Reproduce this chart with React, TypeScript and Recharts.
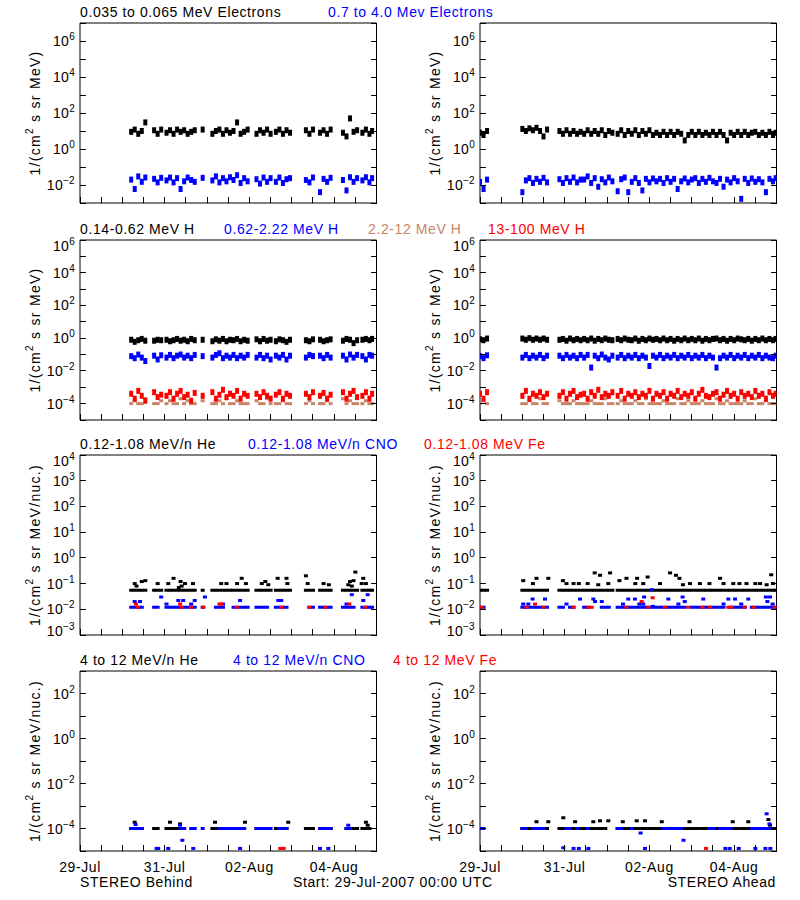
import { ScatterChart, Scatter, XAxis, YAxis } from 'recharts'

// sample times, hours after 29-Jul-2007 00:00 UTC
const HOURS_BEHIND = [
  29, 31, 33, 35, 37,
  42, 44, 46,
  49, 51, 53, 55, 57, 59, 61, 63, 65,
  69.5,
  75, 77, 79, 81, 83, 85,
  87, 89, 91, 93, 95,
  100, 102, 104, 106, 108,
  111, 113, 115, 117, 119,
  128, 130, 132,
  136, 138, 140, 142,
  149, 151, 153, 155, 157,
  160, 162, 164, 165.5,
]

const HOURS_AHEAD = [
  0, 2, 4,
  24, 26, 28, 30, 32, 34, 36, 38,
  45, 47, 49, 51, 53, 55, 57,
  59, 61, 63, 65, 67, 69, 71, 73, 75,
  78, 80, 82, 84, 86, 88, 90, 92, 94, 96, 98,
  100, 102, 104, 106, 108, 110, 112, 114, 116, 118,
  120, 122, 124, 126, 128, 130, 132, 134, 136, 138,
  140, 142, 144, 146, 148, 150, 152, 154, 156, 158,
  160, 162, 164, 166, 167.5,
]

const HOUR_TICKS = [0, 12, 24, 36, 48, 60, 72, 84, 96, 108, 120, 132, 144, 156, 168]
const DATE_TICKS = [0, 48, 96, 144]
const DATE_NAMES = ['29-Jul', '31-Jul', '02-Aug', '04-Aug']

// ---------- STEREO Behind ----------
const B_E_LOW = [
  9, 12, 7, 10, 30,
  11, 7, 12,
  8, 11, 7, 12, 9, 11, 7, 9, 11,
  12,
  7, 10, 12, 7, 11, 8,
  10, 30, 7, 9, 12,
  7, 11, 8, 12, 7,
  9, 12, 7, 11, 8,
  11, 7, 12,
  8, 11, 7, 12,
  8, 5, 50, 9, 11,
  8, 12, 7, 10,
]
const B_E_HIGH = [
  0.02, 0.006, 0.03, 0.015, 0.026,
  0.022, 0.014, 0.025,
  0.018, 0.026, 0.014, 0.024, 0.006, 0.016, 0.026, 0.019, 0.015,
  0.025,
  0.018, 0.03, 0.014, 0.024, 0.016, 0.027,
  0.019, 0.035, 0.013, 0.024, 0.016,
  0.021, 0.012, 0.026, 0.015, 0.024,
  0.015, 0.026, 0.013, 0.021, 0.024,
  0.019, 0.014, 0.026,
  0.004, 0.022, 0.015, 0.025,
  0.019, 0.005, 0.027, 0.015, 0.024,
  0.018, 0.027, 0.014, 0.024,
]
const B_H_1 = [
  0.8, 0.6, 0.75, 0.9, 0.7,
  0.7, 0.8, 0.75,
  0.8, 0.65, 0.75, 0.9, 0.7, 0.8, 0.65, 0.9, 0.75,
  0.8,
  0.65, 0.85, 0.7, 0.9, 0.65, 0.8,
  0.75, 0.9, 0.65, 0.8, 0.7,
  0.85, 0.65, 0.9, 0.7, 0.8,
  0.65, 0.85, 0.75, 0.6, 0.8,
  0.75, 0.65, 0.85,
  0.8, 0.65, 0.75, 0.85,
  0.7, 0.9, 0.8, 0.5, 0.75,
  0.8, 0.9, 0.75, 0.9,
]
const B_H_2 = [
  0.08, 0.06, 0.1, 0.065, 0.04,
  0.085, 0.05, 0.09,
  0.065, 0.095, 0.06, 0.085, 0.1, 0.065, 0.085, 0.06, 0.095,
  0.08,
  0.065, 0.095, 0.12, 0.06, 0.085, 0.065,
  0.095, 0.06, 0.085, 0.065, 0.095,
  0.065, 0.095, 0.06, 0.085, 0.05,
  0.085, 0.065, 0.095, 0.05, 0.085,
  0.065, 0.095, 0.08,
  0.085, 0.06, 0.095, 0.065,
  0.085, 0.05, 0.1, 0.065, 0.095,
  0.08, 0.05, 0.095, 0.085,
]
const B_H_3 = [
  1e-4, 1.5e-4, 1e-4, 1e-4, 2e-4,
  1e-4, 1e-4, 1.5e-4,
  1e-4, 1.5e-4, 1e-4, 1e-4, 2e-4, 1e-4, 1.5e-4, 1e-4, 1e-4,
  1.5e-4,
  1e-4, 1e-4, 1.5e-4, 1e-4, 2e-4, 1e-4,
  1e-4, 1.5e-4, 1e-4, 1e-4, 1e-4,
  1.5e-4, 1e-4, 1e-4, 2e-4, 1e-4,
  1e-4, 1e-4, 1.5e-4, 1e-4, 1e-4,
  1e-4, 1.5e-4, 1e-4,
  1e-4, 1e-4, 1.5e-4, 1e-4,
  2e-4, 1e-4, 1.5e-4, 1e-4, 1e-4,
  1e-4, 1.5e-4, 1e-4, 1e-4,
]
const B_H_4 = [
  4e-4, 2e-4, 6e-4, 3e-4, 1.5e-4,
  5e-4, 2.5e-4, 3.5e-4,
  3e-4, 5e-4, 2e-4, 4e-4, 6e-4, 2.5e-4, 3.5e-4, 1.5e-4, 4.5e-4,
  3e-4,
  5e-4, 2e-4, 3.5e-4, 7e-4, 2.5e-4, 4e-4,
  3e-4, 6e-4, 2e-4, 4e-4, 3e-4,
  4e-4, 2.5e-4, 5e-4, 3e-4, 2e-4,
  3.5e-4, 5e-4, 2e-4, 4e-4, 3e-4,
  4e-4, 2.5e-4, 5e-4,
  3e-4, 4.5e-4, 2e-4, 3.5e-4,
  5e-4, 2e-4, 4e-4, 6e-4, 2.5e-4,
  3e-4, 5e-4, 2e-4, 4e-4,
]
const B_HE_LOW = [
  0.055, 0.055, 0.055, 0.055, 0.055,
  0.055, 0.055, 0.055,
  0.055, 0.055, 0.055, 0.055, 0.055, 0.055, 0.055, 0.055, 0.055,
  0.055,
  0.055, 0.055, 0.055, 0.055, 0.055, 0.055,
  0.055, 0.055, 0.055, 0.055, 0.055,
  0.055, 0.055, 0.055, 0.055, 0.055,
  0.055, 0.055, 0.055, 0.055, 0.055,
  0.055, 0.055, 0.055,
  0.055, 0.055, 0.055, 0.055,
  0.055, 0.055, 0.055, 0.055, 0.055,
  0.055, 0.055, 0.055, 0.055,
]
const B_HE_LOW_EXTRA = [
  [31, 0.1], [32, 0.08], [35, 0.12], [37, 0.13], [44, 0.1], [50, 0.1], [53, 0.16], [57, 0.12],
  [57.6, 0.08], [56, 0.07], [59.5, 0.1], [64, 0.1], [80, 0.1], [83, 0.1], [89, 0.1], [91.6, 0.16],
  [94, 0.1], [103, 0.1], [105, 0.12], [106.7, 0.09], [112, 0.16], [117, 0.16], [117.5, 0.1],
  [128, 0.2], [129, 0.1], [138, 0.1], [141, 0.09], [152, 0.09], [153, 0.12], [154, 0.08],
  [155, 0.13], [156, 0.28], [159.6, 0.1], [160.5, 0.16], [162, 0.1],
]
const B_CNO_LOW = [
  0.012, 0.012, 0.012, 0.012, null,
  0.012, 0.012, null,
  0.012, 0.012, 0.012, 0.012, 0.012, 0.012, 0.012, 0.012, 0.012,
  0.012,
  null, 0.012, 0.012, 0.012, null, null,
  0.012, 0.012, 0.012, 0.012, 0.012,
  0.012, 0.012, 0.012, 0.012, null,
  0.012, 0.012, 0.012, 0.012, null,
  null, 0.012, 0.012,
  0.012, 0.012, 0.012, 0.012,
  0.012, 0.012, 0.012, 0.012, null,
  0.012, 0.012, 0.012, 0.012,
]
const B_CNO_LOW_EXTRA = [
  [31, 0.02], [34, 0.02], [46, 0.03], [49, 0.016], [55.7, 0.022], [58.5, 0.022], [63, 0.016],
  [65, 0.022], [70.8, 0.03], [81, 0.016], [90.7, 0.022], [112.4, 0.022], [114, 0.022],
  [151, 0.016], [154, 0.037], [160.5, 0.022], [163, 0.037],
]
const B_FE_LOW = [
  [31.7, 0.016], [32.7, 0.012], [56.7, 0.016], [57.6, 0.012], [63, 0.012], [70, 0.012],
  [79, 0.016], [80, 0.016], [88.8, 0.012], [114, 0.012], [130, 0.012], [139, 0.012],
  [152.6, 0.016], [161.5, 0.012],
]
const B_HE_HIGH = [
  1e-4, 1e-4, 1e-4, 1e-4, null,
  1e-4, 1e-4, null,
  1e-4, 1e-4, 1e-4, 1e-4, 1e-4, 1e-4, null, null, null,
  null,
  1e-4, 1e-4, 1e-4, 1e-4, 1e-4, 1e-4,
  1e-4, 1e-4, 1e-4, 1e-4, null,
  1e-4, 1e-4, 1e-4, 1e-4, null,
  1e-4, 1e-4, 1e-4, 1e-4, null,
  1e-4, 1e-4, 1e-4,
  1e-4, 1e-4, 1e-4, 1e-4,
  null, 1e-4, 1e-4, 1e-4, 1e-4,
  1e-4, 1e-4, 1e-4, null,
]
const B_HE_HIGH_EXTRA = [
  [31, 1.9e-4], [51, 1.9e-4], [56.7, 1.6e-4], [76.5, 1.9e-4], [93.5, 1.9e-4], [118, 1.9e-4],
  [162, 1.9e-4], [163, 1.4e-4],
]
const B_CNO_HIGH = [
  1e-4, 1e-4, 1e-4, 1e-4, null,
  null, null, null,
  null, null, null, null, 1e-4, 1e-4, null, 1e-4, 1e-4,
  1e-4,
  null, null, 1e-4, 1e-4, 1e-4, 1e-4,
  1e-4, 1e-4, 1e-4, 1e-4, null,
  1e-4, 1e-4, 1e-4, 1e-4, 1e-4,
  null, 1e-4, 1e-4, 1e-4, null,
  null, null, null,
  1e-4, 1e-4, 1e-4, 1e-4,
  null, 1e-4, 1e-4, null, null,
  null, null, null, null,
]
const B_CNO_HIGH_EXTRA = [
  [31.5, 1.5e-4], [56.7, 1.4e-4], [58, 3e-5], [43.4, 1.3e-5], [44.3, 1.3e-5], [50, 1.3e-5],
  [64.2, 1.3e-5], [90.7, 1.3e-5], [136, 1.3e-5], [140.7, 1.3e-5], [152, 1.4e-4],
]
const B_FE_HIGH = [[113.5, 1.3e-5], [115.4, 1.3e-5]]

// ---------- STEREO Ahead ----------
const A_E_LOW = [
  8, 6, 10,
  13, 10, 14, 11, 15, 10, 5, 12,
  10, 7, 11, 7, 10, 7, 9,
  7, 11, 7, 10, 7, 11, 6, 10, 8,
  7, 11, 6, 10, 7, 11, 6, 10, 7, 11, 6,
  8, 6, 9, 6, 9, 6, 9, 7, 3, 6,
  9, 6, 9, 6, 8, 6, 9, 6, 9, 6,
  3, 8, 6, 9, 6, 9, 6, 8, 9, 6,
  8, 6, 9, 6, 8,
]
const A_E_HIGH = [
  0.015, 0.006, 0.02,
  0.004, 0.018, 0.024, 0.013, 0.022, 0.015, 0.025, 0.014,
  0.021, 0.013, 0.024, 0.015, 0.026, 0.014, 0.02,
  0.02, 0.03, 0.013, 0.024, 0.008, 0.021, 0.014, 0.026, 0.016,
  0.0045, 0.021, 0.026, 0.004, 0.015, 0.024, 0.013, 0.005, 0.022, 0.014, 0.023,
  0.016, 0.022, 0.013, 0.024, 0.015, 0.022, 0.006, 0.016, 0.023, 0.014,
  0.02, 0.024, 0.013, 0.022, 0.015, 0.025, 0.016, 0.013, 0.022, 0.008,
  0.02, 0.014, 0.024, 0.016, 0.0017, 0.022, 0.013, 0.023, 0.015, 0.021,
  0.014, 0.004, 0.022, 0.016, 0.024,
]
const A_H_1 = [
  0.85, 0.75, 0.95,
  0.95, 0.8, 1.0, 0.8, 0.95, 0.8, 0.95, 0.8,
  0.8, 0.9, 0.7, 0.95, 0.75, 0.9, 0.75,
  0.9, 0.75, 0.95, 0.7, 0.9, 0.75, 0.95, 0.8, 0.75,
  0.9, 0.75, 0.95, 0.8, 0.75, 0.95, 0.7, 0.9, 0.75, 0.95, 0.8,
  0.9, 0.75, 0.95, 0.75, 0.9, 0.7, 0.9, 0.75, 0.95, 0.75,
  0.9, 0.75, 0.95, 0.7, 0.9, 0.75, 0.9, 0.95, 0.75, 0.9,
  0.7, 0.9, 0.75, 0.95, 0.85, 0.75, 0.9, 0.7, 0.9, 0.75,
  0.95, 0.75, 0.9, 0.75, 0.9,
]
const A_H_2 = [
  0.08, 0.06, 0.09,
  0.065, 0.095, 0.06, 0.085, 0.065, 0.095, 0.06, 0.085,
  0.085, 0.06, 0.095, 0.065, 0.085, 0.06, 0.095,
  0.065, 0.095, 0.016, 0.085, 0.06, 0.1, 0.065, 0.05, 0.085,
  0.065, 0.095, 0.06, 0.085, 0.065, 0.095, 0.06, 0.085, 0.065, 0.02, 0.085,
  0.065, 0.095, 0.06, 0.085, 0.065, 0.095, 0.06, 0.085, 0.065, 0.095,
  0.06, 0.085, 0.065, 0.095, 0.06, 0.085, 0.065, 0.016, 0.06, 0.085,
  0.065, 0.095, 0.06, 0.085, 0.065, 0.095, 0.06, 0.085, 0.065, 0.095,
  0.06, 0.085, 0.065, 0.06, 0.085,
]
const A_H_3 = [
  1e-4, 1.5e-4, 1e-4,
  1e-4, 1e-4, 1.5e-4, 1e-4, 1e-4, 2e-4, 1e-4, 1e-4,
  1.5e-4, 1e-4, 1e-4, 1e-4, 1.5e-4, 1e-4, 1e-4,
  1e-4, 1e-4, 1.5e-4, 1e-4, 1e-4, 1e-4, 2e-4, 1e-4, 1e-4,
  1e-4, 1.5e-4, 1e-4, 1e-4, 1e-4, 1.5e-4, 1e-4, 1e-4, 2e-4, 1e-4, 1e-4,
  1e-4, 1e-4, 1.5e-4, 1e-4, 1e-4, 1e-4, 2e-4, 1e-4, 1e-4, 1.5e-4,
  1e-4, 1e-4, 1e-4, 1.5e-4, 1e-4, 1e-4, 1e-4, 2e-4, 1e-4, 1e-4,
  1.5e-4, 1e-4, 1e-4, 1e-4, 1e-4, 1.5e-4, 1e-4, 1e-4, 2e-4, 1e-4,
  1e-4, 1.5e-4, 1e-4, 1e-4, 1e-4,
]
const A_H_4 = [
  4e-4, 2e-4, 5e-4,
  3e-4, 6e-4, 2e-4, 4e-4, 3e-4, 5e-4, 2.5e-4, 4e-4,
  3e-4, 5e-4, 2e-4, 4e-4, 6e-4, 2.5e-4, 3.5e-4,
  4e-4, 2e-4, 5e-4, 3e-4, 7e-4, 2.5e-4, 4e-4, 3e-4, 5e-4,
  3e-4, 6e-4, 2e-4, 4e-4, 3e-4, 5e-4, 2.5e-4, 4e-4, 3e-4, 6e-4, 2e-4,
  4e-4, 3e-4, 5e-4, 2e-4, 4e-4, 3e-4, 6e-4, 2.5e-4, 4e-4, 3e-4,
  5e-4, 2e-4, 4e-4, 7e-4, 3e-4, 2.5e-4, 4e-4, 5e-4, 2e-4, 3.5e-4,
  6e-4, 3e-4, 4e-4, 2e-4, 5e-4, 3e-4, 4e-4, 2.5e-4, 6e-4, 3e-4,
  4e-4, 2e-4, 5e-4, 3e-4, 4e-4,
]
const A_HE_LOW = [
  0.055, 0.055, 0.055,
  0.055, 0.055, 0.055, 0.055, 0.055, 0.055, 0.055, 0.055,
  0.055, 0.055, 0.055, 0.055, 0.055, 0.055, 0.055,
  0.055, 0.055, 0.055, 0.055, 0.055, 0.055, 0.055, 0.055, 0.055,
  0.055, 0.055, 0.055, 0.055, 0.055, 0.055, 0.055, 0.055, 0.055, 0.055, 0.055,
  0.055, 0.055, 0.055, 0.055, 0.055, 0.055, 0.055, 0.055, 0.055, 0.055,
  0.055, 0.055, 0.055, 0.055, 0.055, 0.055, 0.055, 0.055, 0.055, 0.055,
  0.055, 0.055, 0.055, 0.055, 0.055, 0.055, 0.055, 0.055, 0.055, 0.055,
  0.055, 0.055, 0.055, 0.055, 0.055,
]
const A_HE_LOW_EXTRA = [
  [24.5, 0.13], [30, 0.1], [32, 0.16], [38.7, 0.16], [47, 0.13], [49, 0.1], [53, 0.1], [56, 0.1],
  [61, 0.1], [65, 0.26], [67, 0.09], [68, 0.21], [72.7, 0.1], [73.7, 0.26], [79, 0.13], [83, 0.16],
  [88, 0.1], [89, 0.16], [92.5, 0.1], [95, 0.18], [102, 0.1], [107.7, 0.26], [111, 0.21],
  [113, 0.16], [115, 0.09], [119, 0.1], [124.6, 0.1], [130, 0.1], [136, 0.16], [138, 0.1],
  [143.5, 0.1], [147, 0.1], [151, 0.1], [156, 0.1], [158.7, 0.1], [162.4, 0.09], [165, 0.22],
  [166, 0.1],
]
const A_CNO_LOW = [
  0.012, 0.012, null,
  0.012, 0.012, 0.012, 0.012, 0.012, 0.012, 0.012, 0.012,
  0.012, 0.012, null, 0.012, 0.012, null, null,
  0.012, 0.012, null, null, null, 0.012, 0.012, 0.012, null,
  0.012, 0.012, 0.012, 0.012, 0.012, 0.012, 0.012, 0.012, 0.012, 0.012, 0.012,
  0.012, 0.012, 0.012, 0.012, 0.012, 0.012, 0.012, 0.012, 0.012, null,
  0.012, 0.012, 0.012, 0.012, 0.012, 0.012, 0.012, 0.012, 0.012, 0.012,
  null, 0.012, 0.012, 0.012, 0.012, 0.012, null, 0.012, 0.012, 0.012,
  0.012, 0.012, 0.012, 0.012, 0.012,
]
const A_CNO_LOW_EXTRA = [
  [24.5, 0.016], [27.4, 0.016], [29.8, 0.025], [36.8, 0.025], [49, 0.016], [56.7, 0.025],
  [64.2, 0.025], [65.2, 0.02], [69, 0.02], [81, 0.016], [84, 0.025], [87.8, 0.025], [90.3, 0.016],
  [92.5, 0.016], [93, 0.03], [97.3, 0.058], [98, 0.013], [106.7, 0.025], [112.4, 0.016],
  [114.8, 0.03], [116, 0.02], [126.5, 0.025], [138, 0.016], [140.7, 0.025], [144.5, 0.025],
  [148, 0.016], [152, 0.025], [162, 0.03], [164.3, 0.03], [162.8, 0.02], [165.8, 0.016],
]
const A_FE_LOW = [
  [1, 0.012], [26.4, 0.012], [31.2, 0.016], [35.9, 0.012], [52.9, 0.012], [61.4, 0.012],
  [63.3, 0.012], [83, 0.012], [91.6, 0.02], [95.4, 0.012], [97.8, 0.028], [104.8, 0.012],
  [118, 0.012], [126, 0.012], [130.3, 0.012], [140.7, 0.012], [142.6, 0.012], [150, 0.012],
  [155, 0.012], [167, 0.012],
]
const A_HE_HIGH = [
  null, null, null,
  1e-4, 1e-4, 1e-4, 1e-4, 1e-4, 1e-4, 1e-4, 1e-4,
  1e-4, 1e-4, 1e-4, 1e-4, 1e-4, 1e-4, 1e-4,
  1e-4, 1e-4, 1e-4, 1e-4, 1e-4, 1e-4, 1e-4, null, null,
  1e-4, 1e-4, 1e-4, 1e-4, 1e-4, 1e-4, 1e-4, 1e-4, 1e-4, 1e-4, 1e-4,
  1e-4, 1e-4, 1e-4, 1e-4, 1e-4, 1e-4, 1e-4, 1e-4, 1e-4, 1e-4,
  1e-4, 1e-4, 1e-4, 1e-4, 1e-4, 1e-4, 1e-4, 1e-4, 1e-4, 1e-4,
  1e-4, 1e-4, 1e-4, 1e-4, 1e-4, 1e-4, 1e-4, 1e-4, 1e-4, 1e-4,
  1e-4, 1e-4, 1e-4, 1e-4, 1e-4,
]
const A_HE_HIGH_EXTRA = [
  [32, 2e-4], [38.7, 2e-4], [47.2, 3e-4], [53.9, 2e-4], [64.2, 2e-4], [68, 2.2e-4], [72.7, 2.2e-4],
  [80.9, 2e-4], [88.8, 2.2e-4], [93.5, 2.2e-4], [103, 2e-4], [118.7, 2e-4], [143.2, 2e-4],
  [152, 2e-4], [163.4, 2.5e-4], [164.3, 1.4e-4],
]
const A_CNO_HIGH = [
  1e-4, 1e-4, null,
  1e-4, 1e-4, null, 1e-4, 1e-4, 1e-4, 1e-4, null,
  null, null, 1e-4, 1e-4, null, 1e-4, null,
  null, 1e-4, null, null, null, null, null, null, null,
  1e-4, 1e-4, null, null, 1e-4, null, null, null, null, null, null,
  null, null, 1e-4, 1e-4, 1e-4, 1e-4, 1e-4, 1e-4, null, null,
  null, null, null, null, null, 1e-4, 1e-4, null, 1e-4, 1e-4,
  1e-4, 1e-4, null, null, null, null, null, 1e-4, 1e-4, 1e-4,
  1e-4, 1e-4, 1e-4, null, null,
]
const A_CNO_HIGH_EXTRA = [
  [47.2, 1.4e-5], [53, 1.3e-5], [56, 1.3e-5], [61.4, 1.3e-5], [91, 6.3e-5], [93.5, 1.3e-5],
  [115.3, 3e-5], [139, 1.3e-5], [141.5, 1.3e-5], [146.6, 1.3e-5], [156, 1.3e-5], [161.7, 1.3e-5],
  [162.4, 4.5e-4], [164, 1.6e-4], [164.5, 1.3e-5],
]
const A_FE_HIGH = [[128, 1.3e-5]]

const BLACK = '#000000'
const BLUE = '#0000ff'
const BROWN = '#c98466'
const RED = '#ff0000'

const TITLES = [
  [['0.035 to 0.065 MeV Electrons', 80, BLACK], ['0.7 to 4.0 Mev Electrons', 328, BLUE]],
  [['0.14-0.62 MeV H', 80, BLACK], ['0.62-2.22 MeV H', 224, BLUE], ['2.2-12 MeV H', 368, BROWN], ['13-100 MeV H', 488, RED]],
  [['0.12-1.08 MeV/n He', 80, BLACK], ['0.12-1.08 MeV/n CNO', 248, BLUE], ['0.12-1.08 MeV Fe', 424, RED]],
  [['4 to 12 MeV/n He', 80, BLACK], ['4 to 12 MeV/n CNO', 233, BLUE], ['4 to 12 MeV Fe', 393, RED]],
] as [string, number, string][][]

const ROW_TOPS = [23, 240, 455, 671]

const TXT = { fontFamily: '"Liberation Sans", Arial, sans-serif', fontSize: 14, letterSpacing: 0.6 }
const AXIS = { stroke: '#000', strokeWidth: 1 }

type Pt = { x: number; y: number }
// h = marker height in px: the dense bands use a taller dot, the count-floor dashes a flat one
type Series = { color: string; data: Pt[]; h: number }

const zip = (hours: number[], vals: (number | null)[]): Pt[] =>
  hours.map((h, i) => ({ x: h, y: vals[i] as number })).filter((p) => p.y != null)
const pairs = (list: number[][]): Pt[] => list.map(([x, y]) => ({ x, y }))

const supText = (v: number) => {
  const e = Math.round(Math.log10(v))
  return e < 0 ? '\u2212' + -e : String(e)
}

const BottomTick = (props: any) => {
  const { x, y, payload, dates } = props
  const i = DATE_TICKS.indexOf(payload.value)
  return (
    <g>
      <line x1={x} y1={y} x2={x} y2={y - 6} stroke="#000" shapeRendering="crispEdges" />
      {dates && i >= 0 && (
        <text x={x} y={y + 21} textAnchor="middle" fill="#000" style={TXT}>{DATE_NAMES[i]}</text>
      )}
    </g>
  )
}

const TopTick = (props: any) => (
  <line x1={props.x} y1={props.y} x2={props.x} y2={props.y + 6} stroke="#000" shapeRendering="crispEdges" />
)

const LeftTick = (props: any) => {
  const { x, y, payload, labels, domain } = props
  const e = Math.round(Math.log10(payload.value))
  // labels sitting on the frame edge are nudged inside, like IDL does
  const shift = payload.value === domain[1] ? 6 : payload.value === domain[0] ? -4 : 0
  return (
    <g>
      <line x1={x} y1={y} x2={x + 6} y2={y} stroke="#000" shapeRendering="crispEdges" />
      {labels.includes(e) && (
        <text x={x - 5} y={y + 5 + shift} textAnchor="end" fill="#000" style={{ ...TXT, letterSpacing: 0.3 }}>
          10<tspan dy={-6} fontSize={10}>{supText(payload.value)}</tspan>
        </text>
      )}
    </g>
  )
}

const RightTick = (props: any) => (
  <line x1={props.x} y1={props.y} x2={props.x - 6} y2={props.y} stroke="#000" shapeRendering="crispEdges" />
)

interface PanelProps {
  left: number
  top: number
  domain: [number, number]
  ticks: number[]
  labels: number[]
  series: Series[]
  dates: boolean
}

function Panel({ left, top, domain, ticks, labels, series, dates }: PanelProps) {
  return (
    <div style={{ position: 'absolute', left, top: top - 10 }}>
      <ScatterChart width={400} height={220} margin={{ top: 5, right: 18, bottom: 10, left: 20 }}>
        <XAxis
          xAxisId="b"
          dataKey="x"
          type="number"
          domain={[0, 168]}
          ticks={HOUR_TICKS}
          allowDataOverflow
          height={20}
          interval={0}
          tickSize={0}
          tickMargin={0}
          tickLine={false}
          axisLine={AXIS}
          tick={(p: any) => <BottomTick {...p} dates={dates} />}
        />
        <XAxis
          xAxisId="t"
          orientation="top"
          type="number"
          domain={[0, 168]}
          ticks={HOUR_TICKS}
          allowDataOverflow
          height={5}
          interval={0}
          tickSize={0}
          tickMargin={0}
          tickLine={false}
          axisLine={AXIS}
          tick={(p: any) => <TopTick {...p} />}
        />
        <YAxis
          yAxisId="l"
          dataKey="y"
          type="number"
          scale="log"
          domain={domain}
          ticks={ticks}
          allowDataOverflow
          width={60}
          interval={0}
          tickSize={0}
          tickMargin={0}
          tickLine={false}
          axisLine={AXIS}
          tick={(p: any) => <LeftTick {...p} labels={labels} domain={domain} />}
        />
        <YAxis
          yAxisId="r"
          orientation="right"
          type="number"
          scale="log"
          domain={domain}
          ticks={ticks}
          allowDataOverflow
          width={5.5}
          interval={0}
          tickSize={0}
          tickMargin={0}
          tickLine={false}
          axisLine={AXIS}
          tick={(p: any) => <RightTick {...p} />}
        />
        {series.map((s, i) => (
          <Scatter
            key={i}
            xAxisId="b"
            yAxisId="l"
            data={s.data}
            fill={s.color}
            isAnimationActive={false}
            shape={(p: any) => <rect x={p.cx - 2} y={p.cy - s.h / 2} width={4} height={s.h} fill={s.color} />}
          />
        ))}
      </ScatterChart>
    </div>
  )
}

const R1_TICKS = [1e-3, 1e-2, 1e-1, 1, 1e1, 1e2, 1e3, 1e4, 1e5, 1e6, 1e7]
const R2_TICKS = [1e-5, 1e-4, 1e-3, 1e-2, 1e-1, 1, 1e1, 1e2, 1e3, 1e4, 1e5, 1e6]
const R3_TICKS = [1e-3, 1e-2, 1e-1, 1, 1e1, 1e2, 1e3, 1e4]
const R4_TICKS = [1e-5, 1e-4, 1e-3, 1e-2, 1e-1, 1, 1e1, 1e2, 1e3]

const ROWS = [
  { domain: [1e-3, 1e7] as [number, number], ticks: R1_TICKS, labels: [-2, 0, 2, 4, 6], unit: 'MeV' },
  { domain: [1e-5, 1e6] as [number, number], ticks: R2_TICKS, labels: [-4, -2, 0, 2, 4, 6], unit: 'MeV' },
  { domain: [1e-3, 1e4] as [number, number], ticks: R3_TICKS, labels: [-3, -2, -1, 0, 1, 2, 3, 4], unit: 'MeV/nuc.' },
  { domain: [1e-5, 1e3] as [number, number], ticks: R4_TICKS, labels: [-4, -2, 0, 2], unit: 'MeV/nuc.' },
]

const BAND = 6
const DASH = 3

const BEHIND: Series[][] = [
  [
    { color: BLACK, h: BAND, data: zip(HOURS_BEHIND, B_E_LOW) },
    { color: BLUE, h: BAND, data: zip(HOURS_BEHIND, B_E_HIGH) },
  ],
  [
    { color: BLACK, h: BAND, data: zip(HOURS_BEHIND, B_H_1) },
    { color: BLUE, h: BAND, data: zip(HOURS_BEHIND, B_H_2) },
    { color: BROWN, h: DASH, data: zip(HOURS_BEHIND, B_H_3) },
    { color: RED, h: BAND, data: zip(HOURS_BEHIND, B_H_4) },
  ],
  [
    { color: BLACK, h: DASH, data: [...zip(HOURS_BEHIND, B_HE_LOW), ...pairs(B_HE_LOW_EXTRA)] },
    { color: BLUE, h: DASH, data: [...zip(HOURS_BEHIND, B_CNO_LOW), ...pairs(B_CNO_LOW_EXTRA)] },
    { color: RED, h: DASH, data: pairs(B_FE_LOW) },
  ],
  [
    { color: BLACK, h: DASH, data: [...zip(HOURS_BEHIND, B_HE_HIGH), ...pairs(B_HE_HIGH_EXTRA)] },
    { color: BLUE, h: DASH, data: [...zip(HOURS_BEHIND, B_CNO_HIGH), ...pairs(B_CNO_HIGH_EXTRA)] },
    { color: RED, h: DASH, data: pairs(B_FE_HIGH) },
  ],
]

const AHEAD: Series[][] = [
  [
    { color: BLACK, h: BAND, data: zip(HOURS_AHEAD, A_E_LOW) },
    { color: BLUE, h: BAND, data: zip(HOURS_AHEAD, A_E_HIGH) },
  ],
  [
    { color: BLACK, h: BAND, data: zip(HOURS_AHEAD, A_H_1) },
    { color: BLUE, h: BAND, data: zip(HOURS_AHEAD, A_H_2) },
    { color: BROWN, h: DASH, data: zip(HOURS_AHEAD, A_H_3) },
    { color: RED, h: BAND, data: zip(HOURS_AHEAD, A_H_4) },
  ],
  [
    { color: BLACK, h: DASH, data: [...zip(HOURS_AHEAD, A_HE_LOW), ...pairs(A_HE_LOW_EXTRA)] },
    { color: BLUE, h: DASH, data: [...zip(HOURS_AHEAD, A_CNO_LOW), ...pairs(A_CNO_LOW_EXTRA)] },
    { color: RED, h: DASH, data: pairs(A_FE_LOW) },
  ],
  [
    { color: BLACK, h: DASH, data: [...zip(HOURS_AHEAD, A_HE_HIGH), ...pairs(A_HE_HIGH_EXTRA)] },
    { color: BLUE, h: DASH, data: [...zip(HOURS_AHEAD, A_CNO_HIGH), ...pairs(A_CNO_HIGH_EXTRA)] },
    { color: RED, h: DASH, data: pairs(A_FE_HIGH) },
  ],
]

const YTitle = ({ x, cy, unit }: { x: number; cy: number; unit: string }) => (
  <text
    transform={`translate(${x},${cy}) rotate(-90)`}
    textAnchor="middle"
    fill="#000"
    style={{ ...TXT, letterSpacing: 1.3 }}
  >
    1/(cm<tspan dy={-7} fontSize={10}>2</tspan>
    <tspan dy={7}>{` s sr ${unit})`}</tspan>
  </text>
)

export default function App() {
  return (
    <div style={{ position: 'absolute', left: 0, top: 0, width: 800, height: 900, background: '#fff', overflow: 'hidden' }}>
      {ROWS.map((r, i) => (
        <Panel key={'b' + i} left={0} top={ROW_TOPS[i]} domain={r.domain} ticks={r.ticks} labels={r.labels} series={BEHIND[i]} dates={i === 3} />
      ))}
      {ROWS.map((r, i) => (
        <Panel key={'a' + i} left={400} top={ROW_TOPS[i]} domain={r.domain} ticks={r.ticks} labels={r.labels} series={AHEAD[i]} dates={i === 3} />
      ))}
      <svg width={800} height={900} style={{ position: 'absolute', left: 0, top: 0, pointerEvents: 'none' }}>
        {TITLES.map((row, i) =>
          row.map(([t, x, c]) => (
            <text key={t} x={x} y={ROW_TOPS[i] - 6} fill={c} style={TXT}>{t}</text>
          ))
        )}
        {ROWS.map((r, i) => (
          <g key={i}>
            <YTitle x={40} cy={ROW_TOPS[i] + 90} unit={r.unit} />
            <YTitle x={440} cy={ROW_TOPS[i] + 90} unit={r.unit} />
          </g>
        ))}
        <text x={80} y={887} fill="#000" style={TXT}>STEREO Behind</text>
        <text x={293} y={887} fill="#000" style={TXT}>Start: 29-Jul-2007 00:00 UTC</text>
        <text x={776} y={887} textAnchor="end" fill="#000" style={TXT}>STEREO Ahead</text>
      </svg>
    </div>
  )
}
